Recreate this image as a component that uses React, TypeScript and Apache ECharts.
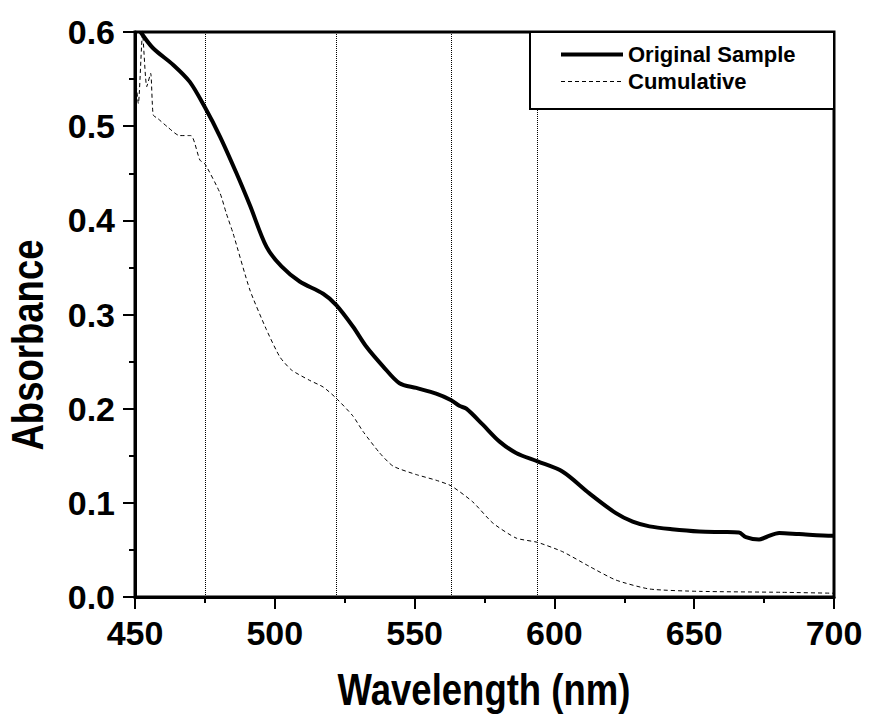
import React, { useEffect, useRef } from "react";
import * as echarts from "echarts";

const origWavelength = [452, 456.4, 463.7, 469.6, 475, 480.4, 486.3, 491.1, 497, 502.4, 508.9, 517.3, 522, 528, 532.7, 538.7, 544.6, 550.6, 557.7, 563.1, 566, 568.5, 574.4, 580.4, 586.3, 594, 603, 612.5, 622, 628, 634, 642, 651.8, 660, 666, 668.5, 673.2, 676, 680.4, 687.5, 699.4, 700];
const origAbsorbance = [0.6, 0.583, 0.565, 0.547, 0.52, 0.489, 0.45, 0.416, 0.372, 0.351, 0.335, 0.322, 0.31, 0.287, 0.266, 0.245, 0.227, 0.222, 0.216, 0.209, 0.203, 0.2, 0.183, 0.165, 0.153, 0.144, 0.133, 0.11, 0.089, 0.08, 0.075, 0.072, 0.0696, 0.069, 0.0685, 0.0636, 0.061, 0.064, 0.068, 0.0668, 0.065, 0.065];

const cumWavelength = [450, 451.2, 452.7, 454.2, 455.6, 456.5, 458.2, 461.7, 465.9, 470, 473.2, 475, 480.4, 482.7, 485.1, 491.1, 497, 501.8, 506, 512.5, 517.3, 522, 528, 531.5, 537.5, 542.3, 550.6, 557.7, 563.1, 570.8, 578, 586.3, 594, 603, 612.5, 622, 634, 651.8, 681, 700];
const cumAbsorbance = [0.558, 0.524, 0.598, 0.542, 0.556, 0.512, 0.508, 0.499, 0.49, 0.49, 0.464, 0.46, 0.429, 0.407, 0.386, 0.326, 0.284, 0.255, 0.241, 0.23, 0.223, 0.211, 0.192, 0.176, 0.153, 0.139, 0.13, 0.124, 0.118, 0.101, 0.0785, 0.0626, 0.058, 0.048, 0.0325, 0.018, 0.0085, 0.006, 0.005, 0.004];

const markerWavelengths = [475, 522, 563, 594];
const seriesNames = ["Original Sample", "Cumulative"];
const xTitle = "Wavelength (nm)";
const yTitle = "Absorbance";

const FONT = '"Liberation Sans", Arial, sans-serif';

export default function App() {
  const ref = useRef<HTMLDivElement>(null);
  useEffect(() => {
    if (!ref.current) return;
    const chart = echarts.init(ref.current, null, { renderer: "svg" });
    const origData = origWavelength.map((w, i) => [w, origAbsorbance[i]]);
    const cumData = cumWavelength.map((w, i) => [w, cumAbsorbance[i]]);
    const axisCommon = {
      axisLine: { show: true, onZero: false, lineStyle: { color: "#000", width: 3 } },
      axisTick: { show: true, inside: false, length: 12, lineStyle: { color: "#000", width: 2 } },
      minorTick: { show: true, splitNumber: 2, length: 6, lineStyle: { color: "#000", width: 2 } },
      splitLine: { show: false },
      minorSplitLine: { show: false },
    };
    chart.setOption({
      animation: false,
      backgroundColor: "#fff",
      grid: {
        left: 135,
        right: 35,
        top: 32,
        bottom: 118,
        show: true,
        borderColor: "#000",
        borderWidth: 3,
        containLabel: false,
      },
      xAxis: {
        type: "value",
        min: 450,
        max: 700,
        interval: 50,
        ...axisCommon,
        axisLabel: {
          color: "#000",
          fontSize: 34,
          fontWeight: "bold",
          fontFamily: FONT,
          margin: 19,
        },
      },
      yAxis: {
        type: "value",
        min: 0,
        max: 0.6,
        interval: 0.1,
        ...axisCommon,
        axisLabel: {
          color: "#000",
          fontSize: 34,
          fontWeight: "bold",
          fontFamily: FONT,
          margin: 20,
          formatter: (v: number) => v.toFixed(1),
        },
      },
      legend: {
        data: [
          { name: seriesNames[0], lineStyle: { width: 4, color: "#000" } },
          { name: seriesNames[1], lineStyle: { width: 1, color: "#000", type: [4, 3] } },
        ],
        orient: "vertical",
        left: 559,
        top: 41,
        itemWidth: 62,
        itemHeight: 14,
        itemGap: 0,
        selectedMode: false,
        z: 20,
        padding: 0,
        itemStyle: { opacity: 0, borderWidth: 0 },
        textStyle: {
          color: "#000",
          fontSize: 22,
          fontWeight: "bold",
          fontFamily: FONT,
          lineHeight: 27,
        },
      },
      graphic: [
        {
          type: "rect",
          z: 10,
          shape: { x: 530, y: 32, width: 304, height: 77 },
          style: { fill: "#fff", stroke: "#000", lineWidth: 2 },
        },
        {
          type: "text",
          x: 484,
          y: 690,
          scaleX: 0.83,
          style: {
            text: xTitle,
            fontSize: 44,
            fontWeight: "bold",
            fontFamily: FONT,
            fill: "#000",
            align: "center",
            verticalAlign: "middle",
          },
        },
        {
          type: "text",
          x: 28,
          y: 345,
          rotation: Math.PI / 2,
          scaleX: 0.83,
          style: {
            text: yTitle,
            fontSize: 44,
            fontWeight: "bold",
            fontFamily: FONT,
            fill: "#000",
            align: "center",
            verticalAlign: "middle",
          },
        },
      ],
      series: [
        {
          name: seriesNames[0],
          type: "line",
          data: origData,
          symbol: "none",
          smooth: 0.3,
          lineStyle: { color: "#000", width: 4 },
          itemStyle: { color: "#000" },
          z: 3,
          markLine: {
            silent: true,
            symbol: ["none", "none"],
            label: { show: false },
            lineStyle: { color: "#000", width: 1, type: "dotted" },
            data: markerWavelengths.map((w) => ({ xAxis: w })),
          },
        },
        {
          name: seriesNames[1],
          type: "line",
          data: cumData,
          symbol: "none",
          smooth: 0.2,
          lineStyle: { color: "#000", width: 1, type: [4, 3] },
          itemStyle: { color: "#000" },
          z: 3,
        },
      ],
    });
    return () => chart.dispose();
  }, []);
  return (
    <div
      ref={ref}
      style={{ position: "fixed", left: 0, top: 0, width: 869, height: 715, background: "#fff" }}
    />
  );
}
